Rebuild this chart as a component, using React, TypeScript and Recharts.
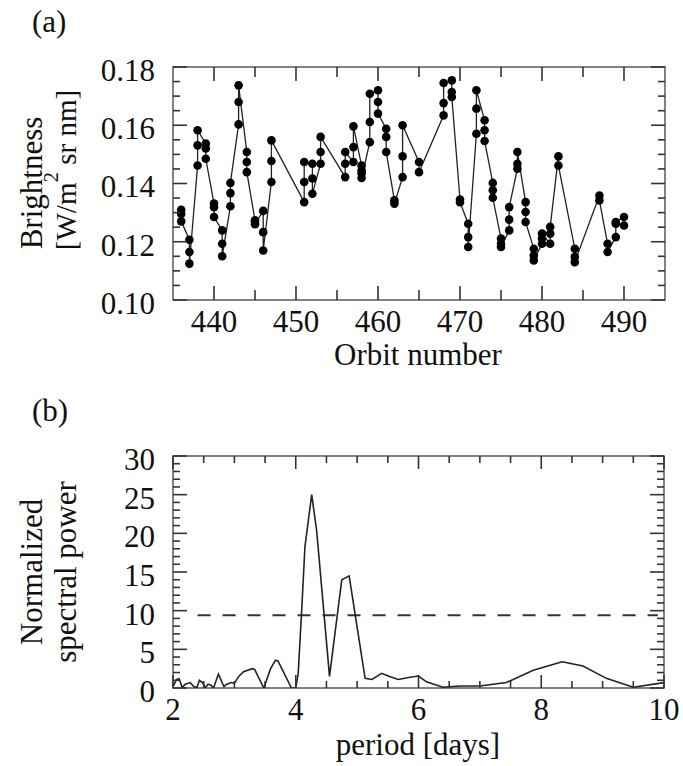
import { LineChart, Line, XAxis, YAxis, ReferenceArea, ReferenceLine } from "recharts";

// (a) brightness readings, grouped per orbit, in the order they are joined
const orbits = [
  436, 437, 438, 439, 440, 441, 442, 443, 444, 445, 446, 447, 451, 452, 453, 456, 457, 458,
  459, 460, 461, 462, 463, 465, 468, 469, 470, 471, 472, 473, 474, 475, 476, 477, 478, 479,
  480, 481, 482, 484, 487, 488, 489, 490,
];
const brightnessByOrbit = [
  [0.131, 0.1295, 0.127],
  [0.1207, 0.1165, 0.1125],
  [0.1462, 0.1531, 0.1583],
  [0.1537, 0.152, 0.1485],
  [0.1331, 0.1319, 0.1285],
  [0.1239, 0.1193, 0.115],
  [0.1322, 0.1367, 0.1402],
  [0.1603, 0.168, 0.1737],
  [0.1508, 0.1474, 0.1439],
  [0.1274, 0.1268, 0.126],
  [0.1306, 0.1233, 0.117],
  [0.1405, 0.1477, 0.1548],
  [0.1336, 0.1405, 0.1474],
  [0.1468, 0.1417, 0.1365],
  [0.1468, 0.1508, 0.156],
  [0.1422, 0.1468, 0.1508],
  [0.1474, 0.1525, 0.1596],
  [0.1462, 0.1445, 0.1434, 0.1419],
  [0.1542, 0.1611, 0.1708],
  [0.172, 0.168, 0.164],
  [0.1588, 0.156, 0.1508],
  [0.1342, 0.1331],
  [0.1422, 0.1493, 0.16],
  [0.1474, 0.1439],
  [0.1634, 0.1676, 0.1745],
  [0.1754, 0.1714, 0.1697],
  [0.1345, 0.1336],
  [0.1262, 0.1216, 0.1182],
  [0.1571, 0.1657, 0.172],
  [0.1617, 0.1583, 0.1546],
  [0.1402, 0.1377, 0.1351],
  [0.1211, 0.1193, 0.1182],
  [0.1239, 0.1276, 0.1319],
  [0.1451, 0.1468, 0.1508],
  [0.1336, 0.1302, 0.1268],
  [0.1176, 0.1153, 0.1136],
  [0.1193, 0.1211, 0.1228],
  [0.1193, 0.1228, 0.1251],
  [0.1493, 0.1462],
  [0.1176, 0.1148, 0.113],
  [0.1359, 0.1342],
  [0.1193, 0.1165],
  [0.1216, 0.1262, 0.1268],
  [0.1285, 0.1256],
];

const orbitTicks = [440, 445, 450, 455, 460, 465, 470, 475, 480, 485, 490];
const orbitLabels = [440, 450, 460, 470, 480, 490];
const brightnessTicks = [
  0.1, 0.105, 0.11, 0.115, 0.12, 0.125, 0.13, 0.135, 0.14, 0.145, 0.15, 0.155, 0.16, 0.165,
  0.17, 0.175, 0.18,
];
const brightnessLabels = [0.1, 0.12, 0.14, 0.16, 0.18];

// (b) periodogram
const periodDays = [
  2.0, 2.02, 2.06, 2.1, 2.15, 2.2, 2.28, 2.34, 2.39, 2.43, 2.48, 2.53, 2.57, 2.62, 2.66, 2.74,
  2.83, 2.88, 2.95, 3.0, 3.07, 3.15, 3.29, 3.33, 3.48, 3.59, 3.67, 3.71, 3.93, 4.0, 4.04, 4.1,
  4.15, 4.26, 4.34, 4.55, 4.75, 4.87, 5.13, 5.24, 5.4, 5.53, 5.67, 5.86, 6.0, 6.13, 6.4, 6.67,
  7.0, 7.43, 7.87, 8.34, 8.68, 9.06, 9.5, 10.0,
];
const spectralPower = [
  0.2, 0.5, 1.1, 1.2, 0.05, 0.5, 0.7, 0.2, 0.05, 1.0, 0.7, 0.05, 0.5, 0.35, 0.0, 1.8, 0.2, 0.5,
  0.7, 0.6, 1.5, 2.1, 2.5, 2.4, 0.0, 2.5, 3.6, 3.5, 0.0, 0.0, 1.9, 10.5, 18.3, 25.0, 20.4, 1.5,
  14.0, 14.5, 1.25, 1.1, 1.9, 1.5, 1.1, 1.4, 1.55, 0.8, 0.1, 0.25, 0.25, 0.7, 2.3, 3.4, 2.85,
  1.25, 0.1, 0.7,
];
const periodTicks = [2, 2.5, 3, 3.5, 4, 4.5, 5, 5.5, 6, 6.5, 7, 7.5, 8, 8.5, 9, 9.5, 10];
const periodLabels = [2, 4, 6, 8, 10];
const powerTicks = [
  0, 1, 2, 3, 4, 5, 6, 7, 8, 9, 10, 11, 12, 13, 14, 15, 16, 17, 18, 19, 20, 21, 22, 23, 24, 25,
  26, 27, 28, 29, 30,
];
const powerLabels = [0, 5, 10, 15, 20, 25, 30];
const falseAlarmLevel = 9.4;
const falseAlarmFrom = 2.4;
const falseAlarmTo = 9.9;

const brightnessData = orbits.flatMap((orbit, i) =>
  brightnessByOrbit[i].map((brightness) => ({ orbit, brightness }))
);
const spectrumData = periodDays.map((period, i) => ({ period, power: spectralPower[i] }));

const FONT = '"Liberation Serif", "Times New Roman", serif';
const INK = "#111";
const TICK = "#333";
const FRAME = "#5a5a5a";
const FS = 31;

const isLabel = (labels: number[], v: number) => labels.some((l) => Math.abs(l - v) < 1e-9);

// ticks point inward and are mirrored on the opposite side of the frame
function xTick(plotH: number, labels: number[], majorLen: number, minorLen: number) {
  return ({ x, y, payload }: any) => {
    const v = payload.value;
    const major = isLabel(labels, v);
    const len = major ? majorLen : minorLen;
    return (
      <g>
        <line x1={x} x2={x} y1={y} y2={y - len} stroke={TICK} strokeWidth={1.6} />
        <line x1={x} x2={x} y1={y - plotH} y2={y - plotH + len} stroke={TICK} strokeWidth={1.6} />
        {major && (
          <text x={x} y={y + 21} dy="0.35em" textAnchor="middle" fontFamily={FONT} fontSize={FS} fill={INK}>
            {v}
          </text>
        )}
      </g>
    );
  };
}

function yTick(plotW: number, labels: number[], fmt: (v: number) => string) {
  return ({ x, y, payload }: any) => {
    const v = payload.value;
    const major = isLabel(labels, v);
    const len = major ? 14 : 7;
    return (
      <g>
        <line x1={x} x2={x + len} y1={y} y2={y} stroke={TICK} strokeWidth={1.6} />
        <line x1={x + plotW} x2={x + plotW - len} y1={y} y2={y} stroke={TICK} strokeWidth={1.6} />
        {major && (
          <text x={x - 18} y={y + 3} dy="0.35em" textAnchor="end" fontFamily={FONT} fontSize={FS} fill={INK}>
            {fmt(v)}
          </text>
        )}
      </g>
    );
  };
}

const textStyle = { fontFamily: FONT, fontSize: FS, fill: INK };

export default function App() {
  return (
    <div style={{ position: "absolute", left: 0, top: 0, width: 683, height: 766, background: "#fff" }}>
      {/* (a) brightness vs orbit */}
      <div style={{ position: "absolute", left: 0, top: 0 }}>
        <LineChart width={683} height={380} data={brightnessData} margin={{ top: 67, right: 18, bottom: 0, left: 0 }}>
          <ReferenceArea x1={435} x2={495} y1={0.1} y2={0.18} fill="none" stroke={FRAME} strokeWidth={1.5} />
          <XAxis
            dataKey="orbit"
            type="number"
            domain={[435, 495]}
            allowDataOverflow
            ticks={orbitTicks}
            interval={0}
            height={80}
            tickSize={0}
            tickMargin={0}
            axisLine={false}
            tickLine={false}
            tick={xTick(233, orbitLabels, 14, 10)}
          />
          <YAxis
            type="number"
            domain={[0.1, 0.18]}
            allowDataOverflow
            ticks={brightnessTicks}
            interval={0}
            width={173}
            tickSize={0}
            tickMargin={0}
            axisLine={false}
            tickLine={false}
            tick={yTick(492, brightnessLabels, (v) => v.toFixed(2))}
          />
          <Line
            dataKey="brightness"
            type="linear"
            stroke="#222"
            strokeWidth={1.3}
            dot={{ r: 4.3, fill: "#000", stroke: "#000", strokeWidth: 0 }}
            activeDot={false}
            isAnimationActive={false}
          />
        </LineChart>
      </div>

      {/* (b) normalized periodogram */}
      <div style={{ position: "absolute", left: 0, top: 380 }}>
        <LineChart width={683} height={386} data={spectrumData} margin={{ top: 76, right: 19, bottom: 0, left: 0 }}>
          <ReferenceArea x1={2} x2={10} y1={0} y2={30} fill="none" stroke={FRAME} strokeWidth={1.5} />
          <XAxis
            dataKey="period"
            type="number"
            domain={[2, 10]}
            allowDataOverflow
            ticks={periodTicks}
            interval={0}
            height={78}
            tickSize={0}
            tickMargin={0}
            axisLine={false}
            tickLine={false}
            tick={xTick(232, periodLabels, 13, 7)}
          />
          <YAxis
            type="number"
            domain={[0, 30]}
            allowDataOverflow
            ticks={powerTicks}
            interval={0}
            width={173}
            tickSize={0}
            tickMargin={0}
            axisLine={false}
            tickLine={false}
            tick={yTick(491, powerLabels, (v) => String(v))}
          />
          <ReferenceLine
            segment={[
              { x: falseAlarmFrom, y: falseAlarmLevel },
              { x: falseAlarmTo, y: falseAlarmLevel },
            ]}
            stroke="#333"
            strokeWidth={2}
            strokeDasharray="13 12"
          />
          <Line
            dataKey="power"
            type="linear"
            stroke="#222"
            strokeWidth={1.6}
            dot={false}
            activeDot={false}
            isAnimationActive={false}
          />
        </LineChart>
      </div>

      {/* panel letters and axis titles */}
      <svg width={683} height={766} style={{ position: "absolute", left: 0, top: 0, pointerEvents: "none" }}>
        <text x={32} y={32} {...textStyle}>(a)</text>
        <text x={32} y={421} {...textStyle}>(b)</text>

        <text x={42} y={183} textAnchor="middle" transform="rotate(-90 42 183)" {...textStyle}>
          Brightness
        </text>
        <text x={76} y={170} textAnchor="middle" transform="rotate(-90 76 170)" {...textStyle} fontSize={29}>
          [W/m
          <tspan dy={-18} fontSize={21}>2</tspan>
          <tspan dy={18}> sr nm]</tspan>
        </text>
        <text x={418} y={365} textAnchor="middle" {...textStyle}>Orbit number</text>

        <text x={42} y={572} textAnchor="middle" transform="rotate(-90 42 572)" {...textStyle}>
          Normalized
        </text>
        <text x={76} y={572} textAnchor="middle" transform="rotate(-90 76 572)" {...textStyle}>
          spectral power
        </text>
        <text x={418} y={755} textAnchor="middle" {...textStyle}>period [days]</text>
      </svg>
    </div>
  );
}
